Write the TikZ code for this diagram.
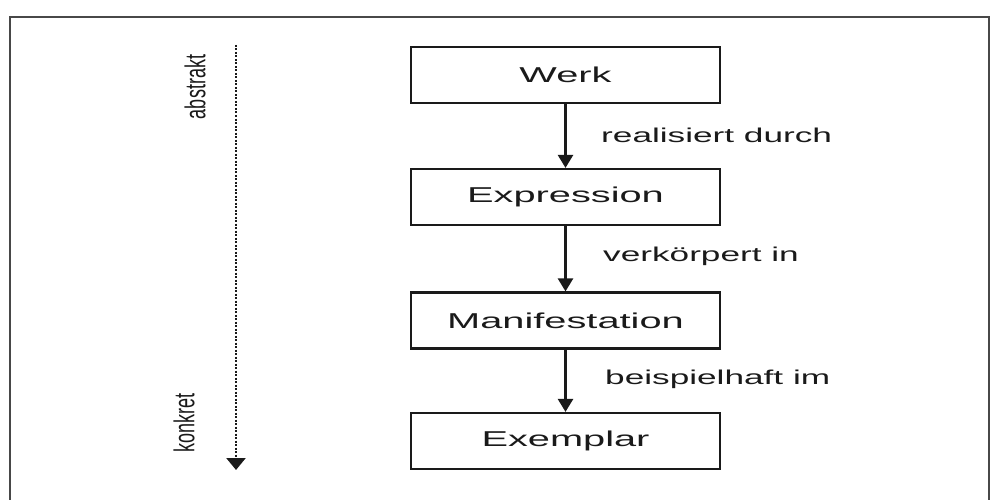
\documentclass[tikz,border=0pt]{standalone}
\usepackage{fontspec}
\setmainfont{Liberation Sans}
\usetikzlibrary{arrows.meta}
\definecolor{ink}{HTML}{1A1A1A}
\begin{document}
\begin{tikzpicture}[x=1pt,y=-1pt,
  box/.style={draw=ink, line width=2.2pt, minimum width=309pt, minimum height=56pt, inner sep=0pt, text=ink, font=\fontsize{21.5}{21.5}\selectfont},
  rel/.style={anchor=west, inner sep=0pt, text=ink, font=\fontsize{20}{20}\selectfont},
  side/.style={inner sep=0pt, text=ink, font=\fontsize{18}{18}\selectfont},
  link/.style={draw=ink, line width=2.6pt, -{Triangle[length=13pt,width=15pt]}},
  scale link/.style={draw=ink, line width=2.4pt, dash pattern=on 2pt off 1.5pt, -{Triangle[length=12pt,width=19pt]}}]
\useasboundingbox (0,0) rectangle (992,500);
\draw[line width=2pt, ink!80] (9.5,500) -- (9.5,17) -- (989,17) -- (989,500);
\node[box] (werk) at (565.5,75) {\scalebox{1.85}[1]{Werk}};
\node[box] (expr) at (565.5,197) {\scalebox{1.85}[1]{Expression}};
\node[box] (mani) at (565.5,320.5) {\scalebox{1.85}[1]{Manifestation}};
\node[box] (exem) at (565.5,441) {\scalebox{1.85}[1]{Exemplar}};
\draw[link] (werk) -- (expr);
\draw[link] (expr) -- (mani);
\draw[link] (mani) -- (exem);
\node[rel] (l1) at (601,135) {\scalebox{1.76}[1]{realisiert durch}};
\node[rel] (l2) at (603,256) {\scalebox{1.76}[1]{verkörpert in}};
\node[rel] (l3) at (605,379) {\scalebox{1.76}[1]{beispielhaft im}};
\coordinate (stop) at (236,45);
\coordinate (sbot) at (236,470);
\draw[scale link] (stop) -- (sbot);
\node[side] (abs) at (195,87) {\scalebox{1.6}[1]{\rotatebox{90}{abstrakt}}};
\node[side] (kon) at (184,423) {\scalebox{1.6}[1]{\rotatebox{90}{konkret}}};
\end{tikzpicture}
\end{document}
